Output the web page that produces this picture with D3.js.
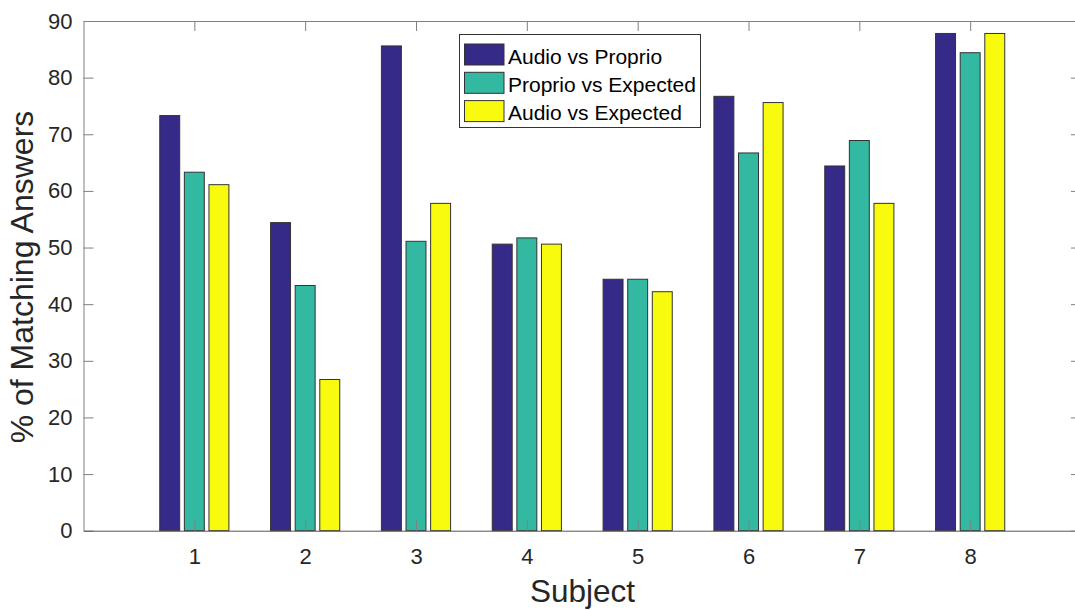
<!DOCTYPE html>
<html><head><meta charset="utf-8">
<script src="https://cdn.jsdelivr.net/npm/d3@7"></script>
<style>body{margin:0;background:#fff;} svg{display:block;font-family:"Liberation Sans",Arial,sans-serif;}</style>
</head><body>
<svg id="c" width="1075" height="610"></svg>
<script>
const subjects = [1,2,3,4,5,6,7,8];
const seriesNames = ["Audio vs Proprio","Proprio vs Expected","Audio vs Expected"];
const audioVsProprio   = [73.3, 54.4, 85.6, 50.6, 44.4, 76.7, 64.4, 87.8];
const proprioVsExpected = [63.3, 43.3, 51.1, 51.7, 44.4, 66.7, 68.9, 84.4];
const audioVsExpected  = [61.1, 26.7, 57.8, 50.6, 42.2, 75.6, 57.8, 87.8];
const yTicks = [0,10,20,30,40,50,60,70,80,90];
const colors = ["#352a87","#33b8a1","#f9fb0e"];

const series = [audioVsProprio, proprioVsExpected, audioVsExpected];
const svg = d3.select("#c");
const L = 83.5, R = 1081, T = 21, B = 530.7;
const x = d3.scaleLinear().domain([0,9]).range([L,R]);
const y = d3.scaleLinear().domain([0,90]).range([B,T]);
const axisCol = "#808080", textCol = "#262626";

// bars
const offs = [-0.222, 0, 0.222], bw = 0.18;
series.forEach((vals, si) => {
  svg.append("g").selectAll("rect").data(vals).join("rect")
    .attr("x", (d,i) => x(subjects[i] + offs[si] - bw/2))
    .attr("width", x(bw) - x(0))
    .attr("y", d => y(d))
    .attr("height", d => y(0) - y(d))
    .attr("fill", colors[si])
    .attr("stroke", "#333").attr("stroke-width", 1);
});

// axes
const fmt = d3.format("d");
const gl = svg.append("g").attr("transform",`translate(${L},0)`)
  .call(d3.axisLeft(y).tickValues(yTicks).tickFormat(fmt).tickSizeInner(-10).tickSizeOuter(0).tickPadding(11));
const gb = svg.append("g").attr("transform",`translate(0,${B})`)
  .call(d3.axisBottom(x).tickValues(subjects).tickFormat(fmt).tickSizeInner(-10).tickSizeOuter(0).tickPadding(18));
const gt = svg.append("g").attr("transform",`translate(0,${T})`)
  .call(d3.axisTop(x).tickValues(subjects).tickFormat("").tickSizeInner(-10).tickSizeOuter(0));
const gr = svg.append("g").attr("transform",`translate(${R},0)`)
  .call(d3.axisRight(y).tickValues(yTicks).tickFormat("").tickSizeInner(-10).tickSizeOuter(0));
[gl,gb,gt,gr].forEach(g => {
  g.selectAll("path,line").attr("stroke", axisCol).attr("stroke-width", 1);
  g.selectAll("text").attr("fill", textCol).style("font-size","22px").style("font-family","Liberation Sans, Arial, sans-serif");
});
gb.select("path").attr("stroke","#555");

// axis labels
svg.append("text").attr("x", 582.5).attr("y", 602).attr("text-anchor","middle")
  .attr("fill", textCol).style("font-size","31.5px").text("Subject");
svg.append("text").attr("transform",`translate(33,277) rotate(-90)`).attr("text-anchor","middle")
  .attr("fill", textCol).style("font-size","32px").text("% of Matching Answers");

// legend
const lg = svg.append("g");
lg.append("rect").attr("x",459.5).attr("y",34.5).attr("width",241).attr("height",93)
  .attr("fill","#fff").attr("stroke","#333").attr("stroke-width",1);
seriesNames.forEach((n,i) => {
  const yy = 44 + i*28.3;
  lg.append("rect").attr("x",464.5).attr("y",yy).attr("width",39.5).attr("height",21)
    .attr("fill",colors[i]).attr("stroke","#333");
  lg.append("text").attr("x",508).attr("y",yy+19.5).attr("fill","#000")
    .style("font-size","21px").text(n);
});
</script>
</body></html>
